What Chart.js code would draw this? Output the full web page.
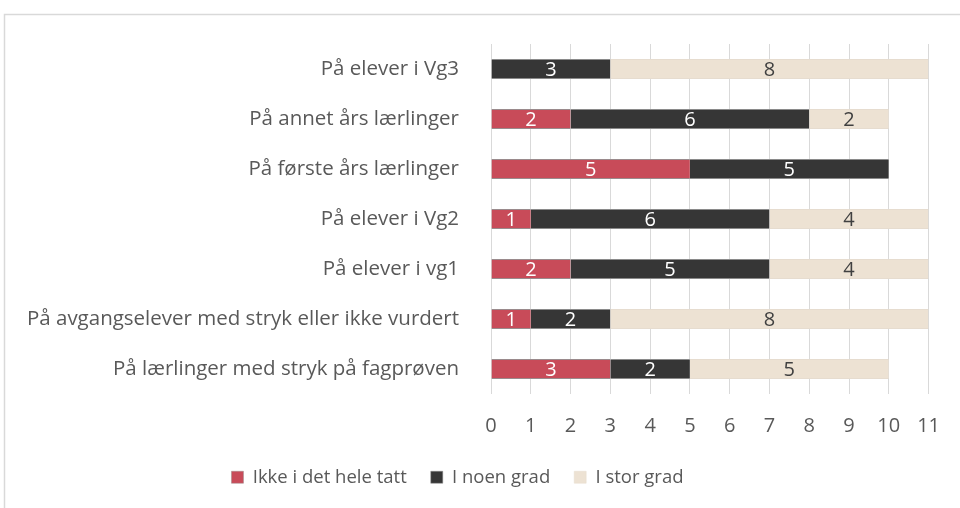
<!DOCTYPE html>
<html>
<head>
<meta charset="utf-8">
<script src="https://cdn.jsdelivr.net/npm/chart.js@4.4.0/dist/chart.umd.min.js"></script>
<style>
  html, body { margin: 0; padding: 0; background: #fff; }
  #wrap { position: relative; width: 960px; height: 508px; }
</style>
</head>
<body>
<div id="wrap"><canvas id="chart" width="960" height="508"></canvas></div>
<script>
const CATEGORIES = [
  "På elever i Vg3",
  "På annet års lærlinger",
  "På første års lærlinger",
  "På elever i Vg2",
  "På elever i vg1",
  "På avgangselever med stryk eller ikke vurdert",
  "På lærlinger med stryk på fagprøven"
];
const SERIES_NAMES = ["Ikke i det hele tatt", "I noen grad", "I stor grad"];
const IKKE_I_DET_HELE_TATT = [0, 2, 5, 1, 2, 1, 3];
const I_NOEN_GRAD = [3, 6, 5, 6, 5, 2, 2];
const I_STOR_GRAD = [8, 2, 0, 4, 4, 8, 5];
const X_TICKS = [0, 1, 2, 3, 4, 5, 6, 7, 8, 9, 10, 11];

const FONT = "'Open Sans', 'Noto Sans', sans-serif";
const TEXT_COLOR = "#595959";

// value labels in the middle of each segment
const segmentLabels = {
  id: 'segmentLabels',
  afterDatasetsDraw(chart) {
    const ctx = chart.ctx;
    ctx.save();
    ctx.font = "20px " + FONT;
    ctx.textAlign = 'center';
    ctx.textBaseline = 'middle';
    chart.data.datasets.forEach((ds, i) => {
      const meta = chart.getDatasetMeta(i);
      meta.data.forEach((bar, j) => {
        const v = ds.data[j];
        if (!v) return;
        const x = (bar.x + bar.base) / 2;
        ctx.fillStyle = ds.labelColor;
        ctx.fillText(String(v), x, bar.y + 1);
      });
    });
    ctx.restore();
  }
};

// light frame of the chart box, and fixed legend height / offset
const frame = {
  id: 'frame',
  beforeLayout(chart) {
    const lg = chart.legend;
    if (lg && !lg._fixed) {
      const fit = lg.fit.bind(lg);
      lg.fit = function () { fit(); this.height = 64; };
      lg._fixed = true;
    }
  },
  afterLayout(chart) {
    const lg = chart.legend;
    if (lg) { lg.left -= 8; lg.right -= 8; }
  },
  beforeDraw(chart) {
    const ctx = chart.ctx;
    ctx.save();
    ctx.strokeStyle = "#d9d9d9";
    ctx.lineWidth = 1.5;
    ctx.strokeRect(4.5, 14.5, 1000, 600);
    ctx.restore();
  }
};

const datasets = [
  { label: SERIES_NAMES[0], data: IKKE_I_DET_HELE_TATT, backgroundColor: "#C84B59", borderColor: "#9a8a8c", labelColor: "#ffffff" },
  { label: SERIES_NAMES[1], data: I_NOEN_GRAD, backgroundColor: "#363636", borderColor: "#8a8a8a", labelColor: "#ffffff" },
  { label: SERIES_NAMES[2], data: I_STOR_GRAD, backgroundColor: "#EDE2D3", borderColor: "#e6dccf", labelColor: "#404040" }
].map(d => Object.assign(d, {
  borderWidth: { top: 1, bottom: 1, left: 0, right: 0 },
  borderSkipped: false,
  barPercentage: 0.6,
  categoryPercentage: 0.667
}));

new Chart(document.getElementById('chart'), {
  type: 'bar',
  data: { labels: CATEGORIES, datasets: datasets },
  options: {
    indexAxis: 'y',
    responsive: false,
    animation: false,
    layout: { padding: { top: 44, right: 29, left: 0, bottom: 0 } },
    plugins: {
      legend: {
        position: 'bottom',
        labels: {
          boxWidth: 12,
          boxHeight: 12,
          padding: 24,
          color: TEXT_COLOR,
          font: { family: FONT, size: 18.5 }
        }
      },
      tooltip: { enabled: false }
    },
    scales: {
      x: {
        stacked: true,
        min: 0,
        max: 11,
        afterBuildTicks: (scale) => { scale.ticks = X_TICKS.map(v => ({ value: v })); },
        afterFit: (scale) => { scale.height = 50; },
        grid: { color: "#d9d9d9", drawTicks: false },
        border: { display: false },
        ticks: { color: TEXT_COLOR, padding: 20, font: { family: FONT, size: 20 } }
      },
      y: {
        stacked: true,
        afterFit: (scale) => { scale.width = 491; },
        grid: { display: false },
        border: { display: false },
        ticks: { color: TEXT_COLOR, padding: 24, font: { family: FONT, size: 20.5 } }
      }
    }
  },
  plugins: [segmentLabels, frame]
});
</script>
</body>
</html>
